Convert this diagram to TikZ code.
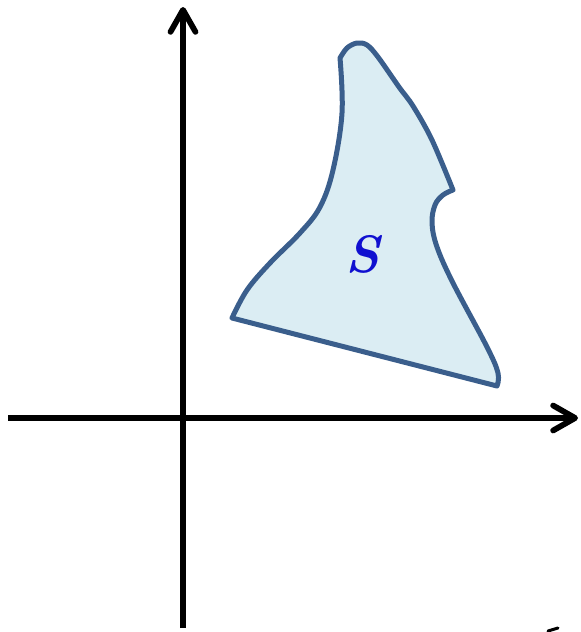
\documentclass[tikz,border=0pt]{standalone}
\usepackage{xcolor}
\usepackage{tikz}
\usetikzlibrary{arrows.meta}
\definecolor{regionblue}{HTML}{3A5E8C}
\definecolor{regionfill}{HTML}{DBEDF3}
\definecolor{labelblue}{HTML}{1010D0}
\tikzstyle{axis} = [line width=0.115cm, black,
  -{Straight Barb[length=0.44cm, width=0.5cm, round]}]
\tikzstyle{region} = [line width=0.1cm, draw=regionblue, fill=regionfill, line join=round]
\tikzstyle{setlabel} = [text=labelblue, font=\fontsize{30}{34}\selectfont\bfseries\itshape]

\begin{document}
\begin{tikzpicture}[x=0.02cm, y=-0.02cm]
  \useasboundingbox (0,0) rectangle (581,632);

  % The set S
  \draw[region] (232,318) -- (497,386)
    -- plot[smooth, tension=0.6] coordinates {(497,386) (498,373) (487,347) (453,283)
      (437,247) (432,223) (435,205) (443,195) (453,190)}
    -- plot[smooth, tension=0.55] coordinates {(453,190) (432,140) (413,106) (399,87)
      (378,57) (367,45) (357,43) (347,48) (340,58)}
    -- plot[smooth, tension=0.6] coordinates {(340,58) (342,113) (333,170) (320,207)
      (300,233) (270,263) (247,290) (232,318)}
    -- cycle;
  \node (slabel) [setlabel] at (363,254) {S};

  % Axes
  \draw[axis] (8,418) -- (578,418);
  \draw[axis] (183,628) -- (183,7);

  % Stray mark
  \draw[line width=0.06cm, line cap=round] (548,631) -- (558,628);
\end{tikzpicture}
\end{document}
